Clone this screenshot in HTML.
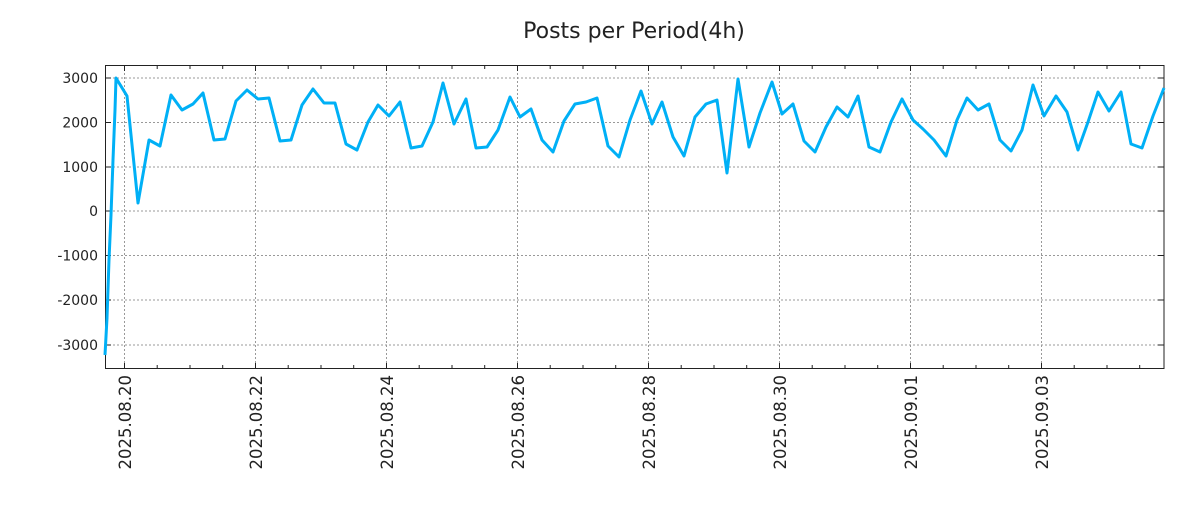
<!DOCTYPE html>
<html><head><meta charset="utf-8"><style>
body{margin:0;background:#fff;width:1200px;height:500px;overflow:hidden}
svg{font-family:"DejaVu Sans","Liberation Sans",sans-serif}
</style></head><body>
<svg width="1200" height="500" xmlns="http://www.w3.org/2000/svg">
<text x="634" y="38" font-size="22" text-anchor="middle" fill="#222">Posts per Period(4h)</text>
<g stroke="#999" stroke-width="1" stroke-dasharray="2,2">
<line x1="105" x2="1164" y1="78" y2="78"/><line x1="105" x2="1164" y1="122.5" y2="122.5"/><line x1="105" x2="1164" y1="167" y2="167"/><line x1="105" x2="1164" y1="211" y2="211"/><line x1="105" x2="1164" y1="255.5" y2="255.5"/><line x1="105" x2="1164" y1="300" y2="300"/><line x1="105" x2="1164" y1="345" y2="345"/>
<line y1="65" y2="369" x1="124.5" x2="124.5"/><line y1="65" y2="369" x1="255.5" x2="255.5"/><line y1="65" y2="369" x1="386.5" x2="386.5"/><line y1="65" y2="369" x1="517.5" x2="517.5"/><line y1="65" y2="369" x1="648.5" x2="648.5"/><line y1="65" y2="369" x1="779.5" x2="779.5"/><line y1="65" y2="369" x1="910.5" x2="910.5"/><line y1="65" y2="369" x1="1041.5" x2="1041.5"/>
</g>
<g stroke="#222" stroke-width="1">
<path id="t" d="M124.5 65v6M157.2 65v4M190 65v4M222.7 65v4M255.5 65v6M288.2 65v4M321 65v4M353.7 65v4M386.5 65v6M419.2 65v4M452 65v4M484.7 65v4M517.5 65v6M550.2 65v4M583 65v4M615.7 65v4M648.5 65v6M681.2 65v4M714 65v4M746.7 65v4M779.5 65v6M812.2 65v4M845 65v4M877.7 65v4M910.5 65v6M943.2 65v4M976 65v4M1008.7 65v4M1041.5 65v6M1074.2 65v4M1107 65v4M1139.7 65v4"/>
<use href="#t" transform="translate(0,434) scale(1,-1)"/>
<path d="M105 78h6M105 122.5h6M105 167h6M105 211h6M105 255.5h6M105 300h6M105 345h6M1164 78h-6M1164 122.5h-6M1164 167h-6M1164 211h-6M1164 255.5h-6M1164 300h-6M1164 345h-6"/>
</g>
<rect x="105.5" y="65.5" width="1058.5" height="303" fill="none" stroke="#222" stroke-width="1"/>
<g font-size="14" fill="#222" text-anchor="end">
<text x="98" y="83">3000</text><text x="98" y="127.5">2000</text><text x="98" y="172">1000</text><text x="98" y="216">0</text><text x="98" y="260.5">-1000</text><text x="98" y="305">-2000</text><text x="98" y="350">-3000</text>
</g>
<g font-size="16.5" fill="#222" text-anchor="end">
<text transform="translate(131,375) rotate(-90)">2025.08.20</text>
<text transform="translate(262,375) rotate(-90)">2025.08.22</text>
<text transform="translate(393,375) rotate(-90)">2025.08.24</text>
<text transform="translate(524,375) rotate(-90)">2025.08.26</text>
<text transform="translate(655,375) rotate(-90)">2025.08.28</text>
<text transform="translate(786,375) rotate(-90)">2025.08.30</text>
<text transform="translate(917,375) rotate(-90)">2025.09.01</text>
<text transform="translate(1048,375) rotate(-90)">2025.09.03</text>
</g>
<polyline fill="none" stroke="#00b0f6" stroke-width="3" stroke-linejoin="round" points="105,355 107,318 109,260 111,215 113,160 115,110 116,78 127,96 138,203 149,140 160,146 171,95 182,110 193,104 203,93 214,140 225,139 236,101 247,90 258,99 269,98 280,141 291,140 302,105 313,89 324,103 335,103 346,144 357,150 368,122 378,105 389,116 400,102 411,148 422,146 433,122 443,83 454,124 466,99 476,148 487,147 498,130 510,97 520,117 531,109 542,140 553,152 564,121 575,104 586,102 597,98 608,146 619,157 630,120 641,91 652,124 662,102 673,137 684,156 695,117 706,104 717,100 727,173 738,79 749,147 760,113 772,82 782,114 793,104 804,141 815,152 826,127 837,107 848,117 858,96 869,147 880,152 891,122 902,99 913,120 923,129 934,140 946,156 957,120 967,98 978,110 989,104 1000,140 1011,151 1022,130 1033,85 1044,116 1056,96 1067,112 1078,150 1088,122 1098,92 1109,111 1121,92 1131,144 1142,148 1153,116 1164,88"/>
</svg>
</body></html>
